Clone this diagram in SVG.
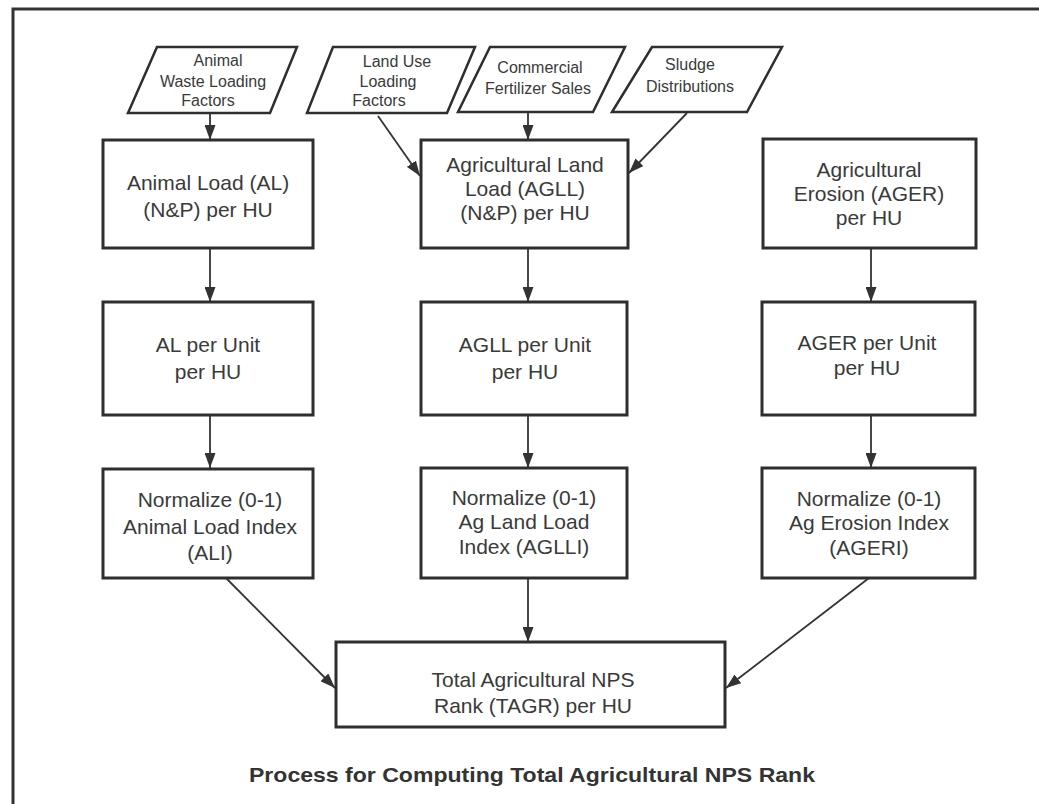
<svg xmlns="http://www.w3.org/2000/svg" width="1039" height="804" viewBox="0 0 1039 804">
<style>
.box{fill:#fff;stroke:#2e2e2e;stroke-width:3}
.para{fill:#fff;stroke:#2e2e2e;stroke-width:2.5}
.t{font-family:"Liberation Sans",Arial,sans-serif;font-size:21px;fill:#3a3a3a;text-anchor:middle}
.s{font-family:"Liberation Sans",Arial,sans-serif;font-size:16px;fill:#3a3a3a;text-anchor:middle}
.c{stroke:#333;stroke-width:1.8;fill:none;marker-end:url(#ah)}
.title{font-family:"Liberation Sans",Arial,sans-serif;font-size:21px;font-weight:bold;fill:#333;text-anchor:middle}
</style>
<defs>
<marker id="ah" viewBox="0 0 15 11" refX="15" refY="5.5" markerWidth="15" markerHeight="11" markerUnits="userSpaceOnUse" orient="auto">
<path d="M0,0 L15,5.5 L0,11 Z" fill="#333"/>
</marker>
</defs>
<rect width="1039" height="804" fill="#fff"/>
<g id="frame">
<path d="M13,804 L13,9 L1039,9" fill="none" stroke="#333" stroke-width="3"/>
</g>
<g id="connectors">
<line class="c" x1="210" y1="113" x2="210" y2="140"/>
<line class="c" x1="378" y1="116" x2="420" y2="176"/>
<line class="c" x1="528" y1="112" x2="528" y2="140"/>
<line class="c" x1="687" y1="113" x2="629" y2="173"/>
<line class="c" x1="210" y1="248" x2="210" y2="302"/>
<line class="c" x1="528" y1="248" x2="528" y2="302"/>
<line class="c" x1="871" y1="248" x2="871" y2="302"/>
<line class="c" x1="210" y1="415" x2="210" y2="468"/>
<line class="c" x1="528" y1="415" x2="528" y2="468"/>
<line class="c" x1="871" y1="415" x2="871" y2="468"/>
<line class="c" x1="226" y1="578" x2="335" y2="688"/>
<line class="c" x1="528" y1="578" x2="528" y2="642"/>
<line class="c" x1="869" y1="578" x2="726" y2="688"/>
</g>
<g id="in-animal-waste">
<polygon class="para" points="157,47 297,47 270,113 128,113"/>
<text class="s" x="218" y="66">Animal</text>
<text class="s" x="213" y="87">Waste Loading</text>
<text class="s" x="208" y="106">Factors</text>
</g>
<g id="in-land-use">
<polygon class="para" points="333,47 475,47 447,113 307,113"/>
<text class="s" x="397" y="67">Land Use</text>
<text class="s" x="388" y="87">Loading</text>
<text class="s" x="379" y="106">Factors</text>
</g>
<g id="in-fertilizer">
<polygon class="para" points="490,47 625,47 593,112 458,112"/>
<text class="s" x="540" y="73">Commercial</text>
<text class="s" x="538" y="94">Fertilizer Sales</text>
</g>
<g id="in-sludge">
<polygon class="para" points="652,47 782,47 747,112 612,112"/>
<text class="s" x="690" y="70">Sludge</text>
<text class="s" x="690" y="92">Distributions</text>
</g>
<g id="al">
<rect class="box" x="103" y="140" width="210" height="108"/>
<text class="t" x="208" y="190">Animal Load (AL)</text>
<text class="t" x="208" y="217">(N&amp;P) per HU</text>
</g>
<g id="agll">
<rect class="box" x="421" y="140" width="207" height="108"/>
<text class="t" x="525" y="172">Agricultural Land</text>
<text class="t" x="525" y="196">Load (AGLL)</text>
<text class="t" x="525" y="220">(N&amp;P) per HU</text>
</g>
<g id="ager">
<rect class="box" x="763" y="139" width="213" height="109"/>
<text class="t" x="869" y="177">Agricultural</text>
<text class="t" x="869" y="201">Erosion (AGER)</text>
<text class="t" x="869" y="225">per HU</text>
</g>
<g id="al-unit">
<rect class="box" x="103" y="302" width="210" height="113"/>
<text class="t" x="208" y="352">AL per Unit</text>
<text class="t" x="208" y="379">per HU</text>
</g>
<g id="agll-unit">
<rect class="box" x="421" y="302" width="206" height="113"/>
<text class="t" x="525" y="352">AGLL per Unit</text>
<text class="t" x="525" y="379">per HU</text>
</g>
<g id="ager-unit">
<rect class="box" x="762" y="302" width="213" height="113"/>
<text class="t" x="867" y="350">AGER per Unit</text>
<text class="t" x="867" y="375">per HU</text>
</g>
<g id="ali">
<rect class="box" x="103" y="469" width="210" height="109"/>
<text class="t" x="210" y="507">Normalize (0-1)</text>
<text class="t" x="210" y="534">Animal Load Index</text>
<text class="t" x="210" y="560">(ALI)</text>
</g>
<g id="aglli">
<rect class="box" x="421" y="468" width="206" height="110"/>
<text class="t" x="524" y="505">Normalize (0-1)</text>
<text class="t" x="524" y="529">Ag Land Load</text>
<text class="t" x="524" y="554">Index (AGLLI)</text>
</g>
<g id="ageri">
<rect class="box" x="762" y="468" width="213" height="110"/>
<text class="t" x="869" y="506">Normalize (0-1)</text>
<text class="t" x="869" y="530">Ag Erosion Index</text>
<text class="t" x="869" y="555">(AGERI)</text>
</g>
<g id="tagr">
<rect class="box" x="336" y="642" width="389" height="85"/>
<text class="t" x="533" y="687" textLength="203" lengthAdjust="spacingAndGlyphs">Total Agricultural NPS</text>
<text class="t" x="533" y="713">Rank (TAGR) per HU</text>
</g>
<text class="title" x="532" y="782" textLength="566" lengthAdjust="spacingAndGlyphs">Process for Computing Total Agricultural NPS Rank</text>
</svg>
